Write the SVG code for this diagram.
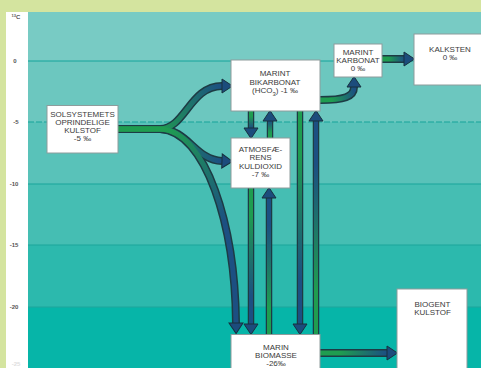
<svg xmlns="http://www.w3.org/2000/svg" width="481" height="368" viewBox="0 0 481 368">
<style>
.box{fill:#ffffff;stroke:#8e9c9c;stroke-width:1}
.t{font-family:"Liberation Sans",Arial,sans-serif;font-size:8px;fill:#3a3a3a;text-anchor:middle}
.ax{font-family:"Liberation Sans",Arial,sans-serif;font-size:6px;font-weight:bold;fill:#555;text-anchor:middle}
.faint{fill:#dedede}
.grid{stroke:#1fa99f;stroke-width:1.6;opacity:0.75}
.ol{fill:none;stroke:#1d3b44;stroke-linecap:butt}
.ocv{stroke-width:8}
.ovt{stroke-width:6.5}
.in{fill:none;stroke-linecap:butt}
.icv{stroke-width:5}
.ivt{stroke-width:4}
</style>
<defs>
<marker id="ah" markerUnits="userSpaceOnUse" markerWidth="18" markerHeight="18" viewBox="-2 -9 18 18" refX="0" refY="0" orient="auto">
<path d="M0,-7 L10.5,0 L0,7 Z" fill="#1c4c7c" stroke="#17303e" stroke-width="1"/>
</marker>
<linearGradient id="g1" gradientUnits="userSpaceOnUse" x1="118" y1="129" x2="222" y2="86"><stop offset="0.3" stop-color="#1f9d50"/><stop offset="1" stop-color="#1c4f82"/></linearGradient>
<linearGradient id="g2" gradientUnits="userSpaceOnUse" x1="118" y1="129" x2="222" y2="161"><stop offset="0.3" stop-color="#1f9d50"/><stop offset="1" stop-color="#1c4f82"/></linearGradient>
<linearGradient id="g3" gradientUnits="userSpaceOnUse" x1="118" y1="129" x2="236" y2="323"><stop offset="0.1" stop-color="#1f9d50"/><stop offset="0.6" stop-color="#1c4f82"/></linearGradient>
<linearGradient id="gv1" gradientUnits="userSpaceOnUse" x1="251" y1="111" x2="251" y2="128"><stop offset="0.3" stop-color="#1f9d50"/><stop offset="1" stop-color="#1c4f82"/></linearGradient>
<linearGradient id="gv2" gradientUnits="userSpaceOnUse" x1="270" y1="138" x2="270" y2="121"><stop offset="0.3" stop-color="#1f9d50"/><stop offset="1" stop-color="#1c4f82"/></linearGradient>
<linearGradient id="gv3" gradientUnits="userSpaceOnUse" x1="300" y1="111" x2="300" y2="324"><stop offset="0.2" stop-color="#1f9d50"/><stop offset="0.8" stop-color="#1c4f82"/></linearGradient>
<linearGradient id="gv4" gradientUnits="userSpaceOnUse" x1="316" y1="334" x2="316" y2="121"><stop offset="0.2" stop-color="#1f9d50"/><stop offset="0.8" stop-color="#1c4f82"/></linearGradient>
<linearGradient id="gv5" gradientUnits="userSpaceOnUse" x1="251" y1="188" x2="251" y2="324"><stop offset="0.2" stop-color="#1f9d50"/><stop offset="0.8" stop-color="#1c4f82"/></linearGradient>
<linearGradient id="gv6" gradientUnits="userSpaceOnUse" x1="269" y1="334" x2="269" y2="198"><stop offset="0.2" stop-color="#1f9d50"/><stop offset="0.8" stop-color="#1c4f82"/></linearGradient>
<linearGradient id="gh1" gradientUnits="userSpaceOnUse" x1="320" y1="100" x2="354" y2="88"><stop offset="0.3" stop-color="#1f9d50"/><stop offset="1" stop-color="#1c4f82"/></linearGradient>
<linearGradient id="gh2" gradientUnits="userSpaceOnUse" x1="382" y1="59" x2="404" y2="59"><stop offset="0.3" stop-color="#1f9d50"/><stop offset="1" stop-color="#1c4f82"/></linearGradient>
<linearGradient id="gh3" gradientUnits="userSpaceOnUse" x1="320" y1="353" x2="387" y2="353"><stop offset="0.3" stop-color="#1f9d50"/><stop offset="1" stop-color="#1c4f82"/></linearGradient>
</defs>

<!-- background -->
<rect x="0" y="0" width="481" height="368" fill="#d4e49f"/>
<rect x="6" y="12" width="22" height="356" fill="#ffffff"/>
<rect x="28" y="12" width="453" height="49" fill="#78cbc4"/>
<rect x="28" y="61" width="453" height="61" fill="#6cc7bf"/>
<rect x="28" y="122" width="453" height="62" fill="#59c2b9"/>
<rect x="28" y="184" width="453" height="61" fill="#45beb3"/>
<rect x="28" y="245" width="453" height="62" fill="#2cb9ad"/>
<rect x="28" y="307" width="453" height="61" fill="#06b5a8"/>
<g>
<line class="grid" x1="28" y1="61" x2="481" y2="61"/>
<line class="grid" x1="28" y1="122" x2="481" y2="122" stroke-dasharray="6 2"/>
<line class="grid" x1="28" y1="184" x2="481" y2="184"/>
<line class="grid" x1="28" y1="245" x2="481" y2="245"/>
<line class="grid" x1="28" y1="307" x2="481" y2="307"/>
</g>
<g id="axis">
<text class="ax" x="16" y="19"><tspan font-size="4" dy="-2">13</tspan><tspan dy="2">C</tspan></text>
<text class="ax" x="15" y="63">0</text>
<text class="ax" x="16" y="124">-5</text>
<text class="ax" x="14" y="186">-10</text>
<text class="ax" x="14" y="247">-15</text>
<text class="ax" x="14" y="309">-20</text>
<text class="ax faint" x="16" y="366">-25</text>
</g>

<g id="connectors">
<g>
<path class="ol ocv" d="M118,129 L160,129 C185,129 190,86 222,86"/>
<path class="ol ocv" d="M118,129 L160,129 C188,129 195,160 222,161"/>
<path class="ol ocv" d="M118,129 L160,129 C206,131 235,225 236,323"/>
<path class="ol ovt" d="M251,111 L251,128"/>
<path class="ol ovt" d="M270,138 L270,121"/>
<path class="ol ovt" d="M300,111 L300,324"/>
<path class="ol ovt" d="M316,334 L316,121"/>
<path class="ol ovt" d="M251,188 L251,324"/>
<path class="ol ovt" d="M269,334 L269,198"/>
<path class="ol ocv" d="M320,100 C344,100 354,97 354,87"/>
<path class="ol ocv" d="M382,59 L404,59"/>
<path class="ol ocv" d="M320,353 L387,353"/>
</g>
<g>
<path class="in icv" stroke="url(#g1)" marker-end="url(#ah)" d="M118,129 L160,129 C185,129 190,86 222,86"/>
<path class="in icv" stroke="url(#g2)" marker-end="url(#ah)" d="M118,129 L160,129 C188,129 195,160 222,161"/>
<path class="in icv" stroke="url(#g3)" marker-end="url(#ah)" d="M118,129 L160,129 C206,131 235,225 236,323"/>
<path class="in ivt" stroke="url(#gv1)" marker-end="url(#ah)" d="M251,111 L251,128"/>
<path class="in ivt" stroke="url(#gv2)" marker-end="url(#ah)" d="M270,138 L270,121"/>
<path class="in ivt" stroke="url(#gv3)" marker-end="url(#ah)" d="M300,111 L300,324"/>
<path class="in ivt" stroke="url(#gv4)" marker-end="url(#ah)" d="M316,334 L316,121"/>
<path class="in ivt" stroke="url(#gv5)" marker-end="url(#ah)" d="M251,188 L251,324"/>
<path class="in ivt" stroke="url(#gv6)" marker-end="url(#ah)" d="M269,334 L269,198"/>
<path class="in icv" stroke="url(#gh1)" marker-end="url(#ah)" d="M320,100 C344,100 354,97 354,87"/>
<path class="in icv" stroke="url(#gh2)" marker-end="url(#ah)" d="M382,59 L404,59"/>
<path class="in icv" stroke="url(#gh3)" marker-end="url(#ah)" d="M320,353 L387,353"/>
</g>
</g>

<g id="solsystemets">
<rect class="box" x="47" y="105.5" width="71" height="47.5"/>
<text class="t" x="82.5" y="117">SOLSYSTEMETS</text>
<text class="t" x="82.5" y="125">OPRINDELIGE</text>
<text class="t" x="82.5" y="133">KULSTOF</text>
<text class="t" x="82.5" y="141">-5 ‰</text>
</g>
<g id="bikarbonat">
<rect class="box" x="231" y="60" width="89" height="51"/>
<text class="t" x="275" y="76">MARINT</text>
<text class="t" x="275" y="84.5">BIKARBONAT</text>
<text class="t" x="275" y="93">(HCO<tspan font-size="6" dy="2.5">3</tspan><tspan dy="-2.5">) -1 ‰</tspan></text>
</g>
<g id="atmosfaerens">
<rect class="box" x="231" y="138" width="59" height="50"/>
<text class="t" x="260.5" y="152">ATMOSFÆ-</text>
<text class="t" x="260.5" y="160">RENS</text>
<text class="t" x="260.5" y="168.5">KULDIOXID</text>
<text class="t" x="260.5" y="177">-7 ‰</text>
</g>
<g id="karbonat">
<rect class="box" x="334" y="44" width="48" height="33"/>
<text class="t" x="358" y="54.5">MARINT</text>
<text class="t" x="358" y="63">KARBONAT</text>
<text class="t" x="358" y="71">0 ‰</text>
</g>
<g id="kalksten">
<rect class="box" x="414" y="34" width="70" height="51"/>
<text class="t" x="450" y="52">KALKSTEN</text>
<text class="t" x="450" y="59.5">0 ‰</text>
</g>
<g id="biomasse">
<rect class="box" x="231" y="334.5" width="89" height="40"/>
<text class="t" x="276" y="350">MARIN</text>
<text class="t" x="276" y="358">BIOMASSE</text>
<text class="t" x="276" y="366">-26‰</text>
</g>
<g id="biogent">
<rect class="box" x="397" y="289" width="70" height="85"/>
<text class="t" x="432.5" y="307">BIOGENT</text>
<text class="t" x="432.5" y="315">KULSTOF</text>
</g>
</svg>
